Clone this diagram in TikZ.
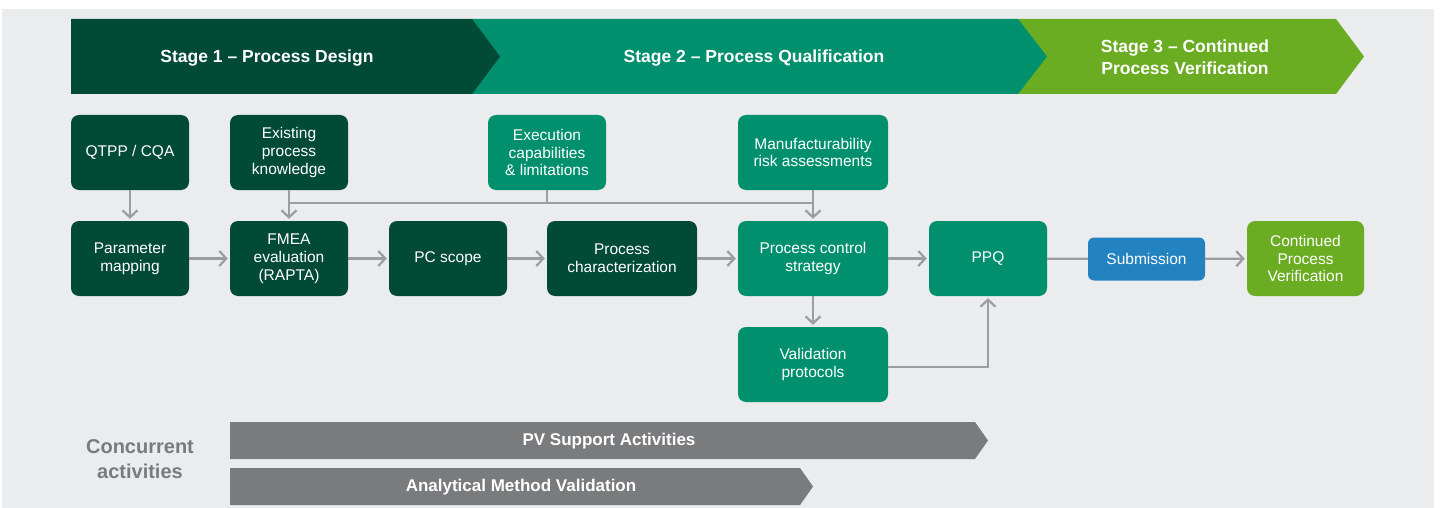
\documentclass[tikz,border=0pt]{standalone}
\usepackage{fontspec}
\setmainfont{Liberation Sans}
\usetikzlibrary{arrows.meta}
\definecolor{bgc}{HTML}{EBECEE}
\definecolor{dkg}{HTML}{004A36}
\definecolor{mdg}{HTML}{00906D}
\definecolor{ltg}{HTML}{6AAC22}
\definecolor{blu}{HTML}{2383C0}
\definecolor{barg}{HTML}{7A7B7D}
\definecolor{arrg}{HTML}{9C9D9F}
\definecolor{txtg}{HTML}{7A7B7D}
\tikzset{
  box/.style={rounded corners=8pt, inner sep=0pt, minimum width=118pt, minimum height=75pt,
    text=white, align=center, font=\fontsize{15.5}{17.8}\selectfont},
  wide/.style={minimum width=150pt},
  stagetxt/.style={text=white, align=center, font=\bfseries\fontsize{17.5}{21.5}\selectfont},
  bartxt/.style={text=white, font=\bfseries\fontsize{17}{20}\selectfont},
  conn/.style={draw=arrg, line width=2.2pt},
  arr/.style={conn, -{Straight Barb[length=7pt,width=15pt,line width=2.2pt]}, shorten >=2pt}
}
\begin{document}
\begin{tikzpicture}[x=1pt,y=-1pt]
\useasboundingbox (0,0) rectangle (1440,508);
\fill[white] (0,0) rectangle (1440,508);
\fill[bgc] (2,9) rectangle (1434,508);
% stage banners
\fill[ltg] (1018,19) -- (1336,19) -- (1364,56.5) -- (1336,94) -- (1018,94) -- cycle;
\fill[mdg] (472,19) -- (1018,19) -- (1047,56.5) -- (1018,94) -- (472,94) -- cycle;
\fill[dkg] (71,19) -- (472,19) -- (500,56.5) -- (472,94) -- (71,94) -- cycle;
\node[stagetxt] (s1) at (267,58) {Stage 1 -- Process Design};
\node[stagetxt] (s2) at (754,58) {Stage 2 -- Process Qualification};
\node[stagetxt] (s3) at (1185,57) {Stage 3 -- Continued\\Process Verification};
% boxes
\node[box, fill=dkg] (qtpp) at (130,152.5) {QTPP / CQA};
\node[box, fill=dkg] (exist) at (289,152.5) {Existing\\process\\knowledge};
\node[box, fill=mdg] (exec) at (547,152.5) {Execution\\capabilities\\\& limitations};
\node[box, wide, fill=mdg] (manu) at (813,152.5) {Manufacturability\\risk assessments};
\node[box, fill=dkg] (param) at (130,258.5) {Parameter\\mapping};
\node[box, fill=dkg] (fmea) at (289,258.5) {FMEA\\evaluation\\(RAPTA)};
\node[box, fill=dkg] (pcs) at (448,258.5) {PC scope};
\node[box, wide, fill=dkg] (pchar) at (622,258.5) {Process\\characterization};
\node[box, wide, fill=mdg] (pstrat) at (813,258.5) {Process control\\strategy};
\node[box, fill=mdg] (ppq) at (988,258.5) {PPQ};
\node[box, fill=blu, minimum width=117pt, minimum height=43pt, rounded corners=6pt] (sub) at (1146.5,259) {Submission};
\node[box, fill=ltg, minimum width=117pt] (cpv) at (1305.5,258.5) {Continued\\Process\\Verification};
\node[box, wide, fill=mdg] (valid) at (813,364.5) {Validation\\protocols};
% connectors
\coordinate (bus) at (813,203);
\coordinate (vp) at (988,367);
\draw[arr] (qtpp) -- (param);
\draw[arr] (exist) -- (fmea);
\draw[conn] (exist.south |- bus) -- (bus);
\draw[conn] (exec.south) -- (exec.south |- bus);
\draw[arr] (manu) -- (pstrat);
\draw[arr] (param) -- (fmea);
\draw[arr] (fmea) -- (pcs);
\draw[arr] (pcs) -- (pchar);
\draw[arr] (pchar) -- (pstrat);
\draw[arr] (pstrat) -- (ppq);
\draw[arr] (pstrat) -- (valid);
\draw[arr] (valid.east |- vp) -- (vp) -- (ppq.south);
\draw[conn] (ppq) -- (sub);
\draw[arr] (sub) -- (cpv);
% concurrent activities
\node[text=txtg, align=center, font=\bfseries\fontsize{20}{25}\selectfont] (conc) at (140,459.5) {Concurrent\\activities};
\fill[barg] (230,422) -- (975,422) -- (988,440.5) -- (975,459) -- (230,459) -- cycle;
\fill[barg] (230,468) -- (800,468) -- (813,486.5) -- (800,505) -- (230,505) -- cycle;
\node[bartxt] (pv) at (609,441.5) {PV Support Activities};
\node[bartxt] (amv) at (521,487.5) {Analytical Method Validation};
\end{tikzpicture}
\end{document}
